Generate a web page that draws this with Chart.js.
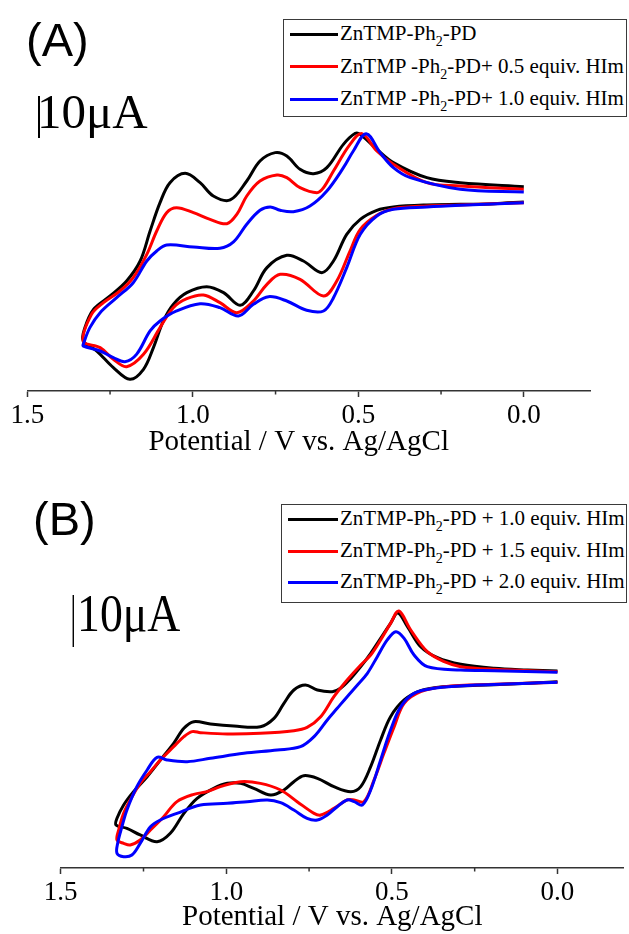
<!DOCTYPE html>
<html><head><meta charset="utf-8">
<script src="https://cdn.jsdelivr.net/npm/chart.js@4"></script>
<style>
html,body{margin:0;padding:0;background:#fff;}
#wrap{position:relative;width:629px;height:934px;overflow:hidden;background:#fff;}
.panel{position:absolute;left:0;width:629px;height:467px;}
canvas{display:block;}
.lbl{position:absolute;white-space:nowrap;line-height:1;color:#000;}
.sans{font-family:"Liberation Sans",Arial,sans-serif;}
.serif{font-family:"Liberation Serif","Times New Roman",serif;}
.lgbox{position:absolute;border:1.5px solid #3a3a3a;box-sizing:border-box;background:#fff;}
.lgline{position:absolute;height:3px;}
.lgtxt{position:absolute;white-space:nowrap;line-height:1;font-family:"Liberation Serif","Times New Roman",serif;font-size:21px;color:#000;}
.lgtxt sub{font-size:14px;vertical-align:-6px;line-height:0;}
</style>
</head><body>
<div id="wrap">
  <div class="panel" style="top:0"><canvas id="cA" width="629" height="467"></canvas></div>
  <div class="panel" style="top:467px"><canvas id="cB" width="629" height="467"></canvas></div>
</div>
<script>
// ---------- data ----------
const X_TICKS = [1.5, 1.25, 1.0, 0.75, 0.5, 0.25, 0.0];
const X_MAJOR = [1.5, 1.0, 0.5, 0.0];
const X_MINOR = [1.25, 0.75, 0.25];
const X_TITLE = 'Potential / V vs. Ag/AgCl';
const SCALE_BAR_UA = 10;
const COLORS = ['#000000', '#ff0000', '#0000ff'];

const LEGEND_A = ['ZnTMP-Ph<sub>2</sub>-PD',
                  'ZnTMP -Ph<sub>2</sub>-PD+ 0.5 equiv. HIm',
                  'ZnTMP -Ph<sub>2</sub>-PD+ 1.0 equiv. HIm'];
const LEGEND_B = ['ZnTMP-Ph<sub>2</sub>-PD + 1.0 equiv. HIm',
                  'ZnTMP-Ph<sub>2</sub>-PD + 1.5 equiv. HIm',
                  'ZnTMP-Ph<sub>2</sub>-PD + 2.0 equiv. HIm'];

// Panel A : potential (V) and current (uA, arbitrary offset)
const A_blackE = [0.000,0.192,0.293,0.394,0.444,0.494,0.509,0.545,0.595,0.635,0.676,0.716,0.751,0.797,0.837,0.887,0.938,0.978,1.023,1.069,1.099,1.129,1.159,1.200,1.250,1.300,1.326,1.331,
                  1.290,1.240,1.190,1.149,1.119,1.089,1.059,1.018,0.958,0.907,0.857,0.817,0.776,0.716,0.666,0.610,0.575,0.535,0.494,0.444,0.394,0.293,0.192,0.091,0.000];
const A_blackI = [48.65,49.60,50.79,54.37,57.54,61.11,61.35,58.73,53.17,51.75,52.78,55.95,56.75,54.76,50.00,45.48,46.43,49.60,51.83,49.60,44.84,38.10,30.95,26.19,22.62,19.44,15.08,11.90,
                  9.52,5.56,2.78,5.16,10.32,16.67,20.63,23.41,24.84,23.41,20.40,23.81,29.37,32.30,30.95,28.17,30.95,37.30,40.87,43.02,43.81,44.29,44.44,44.60,45.00];
const A_redE = [0.000,0.192,0.293,0.394,0.444,0.489,0.525,0.575,0.605,0.625,0.676,0.716,0.746,0.797,0.837,0.867,0.897,0.948,0.998,1.049,1.079,1.109,1.139,1.180,1.220,1.270,1.306,1.331,
                1.280,1.240,1.200,1.149,1.099,1.059,1.018,0.968,0.918,0.867,0.817,0.776,0.736,0.676,0.605,0.565,0.525,0.494,0.444,0.394,0.293,0.192,0.000];
const A_redI = [48.02,48.81,49.60,53.97,57.14,61.27,58.73,52.38,48.41,47.22,48.41,50.79,51.43,50.00,46.43,42.06,39.84,40.87,42.46,43.65,42.46,38.10,32.54,26.98,23.81,21.03,18.25,11.90,
                10.32,7.54,5.79,8.73,15.08,19.84,21.98,22.86,21.03,18.65,21.43,25.40,27.78,26.59,22.62,26.19,33.33,38.49,41.83,43.41,44.05,44.29,44.84];
const A_blueE = [0.000,0.192,0.343,0.394,0.434,0.476,0.515,0.545,0.595,0.646,0.696,0.736,0.766,0.797,0.837,0.877,0.918,0.998,1.079,1.109,1.139,1.180,1.230,1.280,1.311,1.331,
                 1.331,1.280,1.240,1.205,1.170,1.129,1.099,1.049,0.978,0.918,0.862,0.817,0.771,0.716,0.656,0.605,0.575,0.535,0.494,0.444,0.394,0.293,0.192,0.000];
const A_blueI = [47.38,48.02,50.79,53.17,56.75,61.27,57.14,53.17,47.62,44.05,42.70,43.02,43.81,43.02,39.70,35.50,33.97,34.29,34.76,33.33,30.95,25.79,22.22,18.65,15.08,11.11,
                 10.71,9.52,7.94,6.98,8.73,14.29,16.67,19.05,20.79,19.84,17.86,20.63,22.46,21.43,19.21,19.05,22.22,29.37,37.30,41.67,43.25,43.81,44.21,44.84];

// Panel B
const B_blackE = [0.000,0.090,0.191,0.292,0.362,0.413,0.453,0.482,0.504,0.534,0.564,0.594,0.624,0.655,0.680,0.725,0.761,0.796,0.826,0.856,0.897,0.977,1.048,1.098,1.128,1.159,1.199,1.239,1.280,1.310,1.330,1.333,
                  1.300,1.260,1.209,1.169,1.128,1.088,1.038,0.997,0.957,0.917,0.866,0.826,0.796,0.766,0.725,0.675,0.624,0.594,0.564,0.534,0.504,0.463,0.413,0.342,0.241,0.141,0.000];
const B_blackI = [37.88,38.08,38.40,39.17,40.45,42.56,46.41,49.04,47.05,44.17,41.28,38.72,36.47,34.55,33.91,34.23,35.19,34.23,31.67,28.78,27.18,27.31,27.69,28.14,26.86,23.97,20.77,17.56,14.68,12.12,9.55,8.27,
                  7.63,6.35,5.06,6.67,10.51,13.40,15.32,16.28,16.28,15.32,14.04,15.00,16.60,17.76,17.24,15.64,14.68,15.64,19.49,24.62,29.10,32.31,34.10,34.87,35.13,35.38,35.83];
const B_redE = [0.000,0.191,0.292,0.342,0.393,0.443,0.479,0.504,0.534,0.564,0.594,0.635,0.675,0.715,0.756,0.796,0.897,0.997,1.078,1.103,1.128,1.159,1.199,1.229,1.260,1.290,1.310,1.325,1.330,
                1.310,1.290,1.260,1.229,1.189,1.149,1.098,1.058,1.018,0.957,0.897,0.836,0.786,0.735,0.715,0.675,0.635,0.614,0.584,0.554,0.524,0.493,0.463,0.413,0.342,0.191,0.000];
const B_redI = [37.76,38.21,38.72,39.68,41.60,45.77,49.42,47.05,43.85,40.96,39.04,36.15,32.95,29.10,27.05,26.41,25.90,25.77,26.03,26.22,25.26,23.33,20.77,18.53,16.28,13.08,10.51,7.31,5.38,
                4.74,4.42,5.38,7.31,9.87,12.76,14.17,14.68,15.64,16.60,16.28,15.00,12.76,10.51,10.19,11.47,13.08,13.08,12.76,16.92,22.05,27.18,31.67,33.91,34.87,35.32,35.71];
const B_blueE = [0.000,0.191,0.292,0.393,0.433,0.463,0.488,0.514,0.544,0.574,0.604,0.635,0.665,0.695,0.735,0.776,0.846,0.947,1.048,1.118,1.179,1.209,1.239,1.270,1.300,1.315,1.328,1.330,
                 1.310,1.285,1.260,1.229,1.199,1.149,1.078,0.997,0.937,0.876,0.836,0.796,0.756,0.725,0.695,0.665,0.635,0.614,0.589,0.564,0.534,0.504,0.473,0.433,0.373,0.241,0.000];
const B_blueI = [37.63,37.95,38.08,38.72,40.96,44.17,45.45,43.85,40.64,37.44,35.19,32.95,30.71,28.46,25.26,23.33,22.69,22.05,21.09,20.45,20.77,21.28,18.85,15.64,11.15,7.95,4.74,2.82,
                 2.18,2.50,4.74,7.95,9.23,10.51,12.12,12.44,12.76,13.08,12.56,11.15,9.55,9.23,10.19,11.79,13.08,12.76,12.12,15.00,20.77,26.54,31.03,33.59,34.55,35.19,35.71];

// ---------- drawing ----------
const AXIS_COLOR = '#333333';

function decor(cfg) {
  return {
    id: 'decor' + cfg.id,
    afterDraw(chart) {
      const ctx = chart.ctx, xs = chart.scales.x, ys = chart.scales.y;
      const yb = chart.chartArea.bottom;
      ctx.save();
      ctx.strokeStyle = AXIS_COLOR; ctx.lineWidth = 1.5;
      X_MINOR.forEach(v => {
        const px = xs.getPixelForValue(v);
        ctx.beginPath(); ctx.moveTo(px, yb); ctx.lineTo(px, yb + 3.5); ctx.stroke();
      });
      ctx.fillStyle = '#000';
      ctx.font = cfg.titleSize + 'px "Liberation Serif", "Times New Roman", serif';
      ctx.textAlign = 'center'; ctx.textBaseline = 'alphabetic';
      ctx.fillText(X_TITLE, xs.getPixelForValue(cfg.titleAt), cfg.titleBaseline);
      const bx = xs.getPixelForValue(cfg.barAt);
      ctx.strokeStyle = '#000'; ctx.lineWidth = cfg.barWidth;
      ctx.beginPath();
      ctx.moveTo(bx, ys.getPixelForValue(cfg.barFrom));
      ctx.lineTo(bx, ys.getPixelForValue(cfg.barFrom + SCALE_BAR_UA));
      ctx.stroke();
      ctx.restore();
    }
  };
}

function makeChart(canvasId, cfg) {
  const datasets = cfg.series.map((s, i) => ({
    label: s.label,
    data: s.E.map((e, k) => ({ x: e, y: s.I[k] })),
    borderColor: COLORS[i], backgroundColor: COLORS[i],
    borderWidth: 3, pointRadius: 0, tension: 0.35, fill: false,
    order: 3 - i
  }));
  return new Chart(document.getElementById(canvasId), {
    type: 'line',
    data: { datasets },
    options: {
      responsive: false, animation: false, devicePixelRatio: 1,
      layout: { padding: cfg.pad },
      plugins: { legend: { display: false }, tooltip: { enabled: false } },
      scales: {
        x: {
          type: 'linear', reverse: true, min: -0.2, max: 1.5,
          afterBuildTicks: s => { s.ticks = X_TICKS.map(v => ({ value: v })); },
          afterFit: s => { s.height = cfg.axisH; },
          grid: {
            display: true, drawOnChartArea: false, drawTicks: true, tickLength: 6, tickWidth: 1.5,
            tickColor: c => (c.tick && X_MAJOR.includes(c.tick.value)) ? AXIS_COLOR : 'rgba(0,0,0,0)'
          },
          border: { display: true, color: AXIS_COLOR, width: 1.6 },
          ticks: {
            autoSkip: false, maxRotation: 0, minRotation: 0, padding: 3, color: '#000',
            font: { family: '"Liberation Serif", "Times New Roman", serif', size: cfg.tickSize },
            callback: v => X_MAJOR.includes(v) ? v.toFixed(1) : ''
          }
        },
        y: { type: 'linear', display: false, min: 0, max: cfg.yMax }
      }
    },
    plugins: [decor(cfg)]
  });
}

makeChart('cA', {
  id: 'A',
  series: [
    { label: LEGEND_A[0], E: A_blackE, I: A_blackI },
    { label: LEGEND_A[1], E: A_redE, I: A_redI },
    { label: LEGEND_A[2], E: A_blueE, I: A_blueI }
  ],
  pad: { left: 27.3, right: 39, top: 13, bottom: 0 },
  axisH: 76, yMax: 90, tickSize: 27,
  titleSize: 29, titleAt: 0.68, titleBaseline: 450,
  barAt: 1.4647, barFrom: 60.24, barWidth: 2
});

makeChart('cB', {
  id: 'B',
  series: [
    { label: LEGEND_B[0], E: B_blackE, I: B_blackI },
    { label: LEGEND_B[1], E: B_redE, I: B_redI },
    { label: LEGEND_B[2], E: B_blueE, I: B_blueI }
  ],
  pad: { left: 60.7, right: 5.3, top: 11, bottom: 0 },
  axisH: 66, yMax: 75, tickSize: 27,
  titleSize: 29, titleAt: 0.68, titleBaseline: 458,
  barAt: 1.462, barFrom: 42.5, barWidth: 1.4
});

// ---------- text overlays: panel letters, scale-bar labels, legends ----------
const wrap = document.getElementById('wrap');
function addLabel(html, cls, style) {
  const d = document.createElement('div');
  d.className = 'lbl ' + cls; d.innerHTML = html;
  Object.assign(d.style, style);
  wrap.appendChild(d);
}
addLabel('(A)', 'sans', { left: '26px', top: '16px', fontSize: '47px' });
addLabel('(B)', 'sans', { left: '33px', top: '495px', fontSize: '47px' });
addLabel('10μA', 'serif', { left: '37px', top: '87px', fontSize: '49px' });
addLabel('10μA', 'serif', { left: '77px', top: '588px', fontSize: '52px', transform: 'scaleX(0.88)', transformOrigin: 'left top' });

function addLegend(labels, box, lineYs, lineX0, lineX1, textX) {
  const b = document.createElement('div');
  b.className = 'lgbox';
  Object.assign(b.style, { left: box[0] + 'px', top: box[1] + 'px', width: (box[2] - box[0]) + 'px', height: (box[3] - box[1]) + 'px' });
  wrap.appendChild(b);
  labels.forEach((t, i) => {
    const l = document.createElement('div');
    l.className = 'lgline';
    Object.assign(l.style, { left: lineX0 + 'px', top: (lineYs[i] - 1.5) + 'px', width: (lineX1 - lineX0) + 'px', background: COLORS[i] });
    wrap.appendChild(l);
    const s = document.createElement('div');
    s.className = 'lgtxt'; s.innerHTML = t;
    s.style.left = textX + 'px'; s.style.top = (lineYs[i] + 6.7 - 17.6) + 'px';
    wrap.appendChild(s);
  });
}
addLegend(LEGEND_A, [283, 19, 627, 117], [34, 66.7, 99], 290, 338, 340);
addLegend(LEGEND_B, [281, 504, 627, 602.5], [519.3, 551, 582.3], 288, 338, 340);
</script>
</body></html>
